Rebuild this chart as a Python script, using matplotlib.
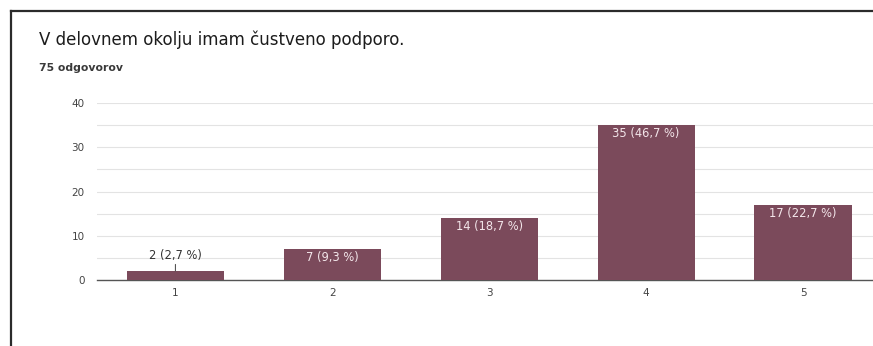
import numpy as np
import matplotlib.pyplot as plt
from matplotlib.lines import Line2D


title_text = "V delovnem okolju imam čustveno podporo."

subtitle_text = "75 odgovorov"

answer_labels = ["1", "2", "3", "4", "5"]

answer_counts = [2, 7, 14, 35, 17]

total_answers = 75

y_ticks = [0, 10, 20, 30, 40]

output_file = "out.png"

bar_color = "#7b4a5b"


def make_label(count):
    '''
    count -> "n (p,p %)" with a decimal comma
    '''

    share = round(100.0 * count / total_answers, 1)

    return (
        str(count)
        + " ("
        + ("%.1f" % share).replace(".", ",")
        + " %)"
    )


def main():

    plt.rcParams["font.family"] = ["DejaVu Sans"]

    fig = plt.figure(
        figsize=(8.73, 3.46),
        dpi=100,
    )

    # frame around the card (top and left edge only)
    fig.add_artist(
        Line2D(
            [10.5 / 873, 1.0],
            [1 - 10.5 / 346, 1 - 10.5 / 346],
            color="#2b2b2b",
            linewidth=1.6,
        )
    )

    fig.add_artist(
        Line2D(
            [10.5 / 873, 10.5 / 873],
            [0.0, 1 - 10.5 / 346],
            color="#2b2b2b",
            linewidth=1.6,
        )
    )

    fig.text(
        39 / 873,
        1 - 45 / 346,
        title_text,
        fontsize=12,
        color="#1c1c1c",
        va="baseline",
        ha="left",
    )

    fig.text(
        39 / 873,
        1 - 71 / 346,
        subtitle_text,
        fontsize=7.8,
        fontweight="bold",
        color="#3a3a3a",
        va="baseline",
        ha="left",
    )

    ax = fig.add_axes(
        [
            97 / 873,
            66 / 346,
            (881.5 - 97) / 873,
            177 / 346,
        ]
    )

    x_pos = np.arange(1, len(answer_labels) + 1)

    bars = ax.bar(
        x_pos,
        answer_counts,
        width=0.62,
        color=bar_color,
        zorder=3,
    )

    ax.set_xlim(0.5, 5.5)

    ax.set_ylim(0, 40)

    ax.set_yticks(y_ticks)

    ax.set_yticks(np.arange(5, 40, 10), minor=True)

    ax.set_xticks(x_pos)

    ax.set_xticklabels(answer_labels)

    ax.grid(
        axis="y",
        which="both",
        color="#e3e3e3",
        linewidth=0.8,
        zorder=0,
    )

    for side in ["top", "right", "left"]:
        ax.spines[side].set_visible(False)

    ax.spines["bottom"].set_color("#555555")

    ax.spines["bottom"].set_linewidth(1.0)

    ax.tick_params(
        axis="both",
        which="both",
        length=0,
        labelsize=7.5,
        labelcolor="#444444",
    )

    ax.tick_params(axis="y", pad=9)

    ax.tick_params(axis="x", pad=6)

    for bar, count in zip(bars, answer_counts):

        x_mid = bar.get_x() + bar.get_width() / 2

        if count < 5:
            # small bar: label above with a short leader line
            ax.annotate(
                make_label(count),
                xy=(x_mid, count),
                xytext=(0, 11.5),
                textcoords="offset points",
                ha="center",
                va="center",
                fontsize=8.3,
                color="#333333",
                arrowprops=dict(
                    arrowstyle="-",
                    color="#555555",
                    linewidth=0.8,
                    shrinkA=0,
                    shrinkB=0,
                ),
                zorder=4,
            )

        else:
            ax.annotate(
                make_label(count),
                xy=(x_mid, count),
                xytext=(0, -6),
                textcoords="offset points",
                ha="center",
                va="center",
                fontsize=8.3,
                color="#f3e6ea",
                zorder=4,
            )

    fig.savefig(
        output_file,
        dpi=100,
        facecolor="white",
    )


if __name__ == "__main__":

    main()
